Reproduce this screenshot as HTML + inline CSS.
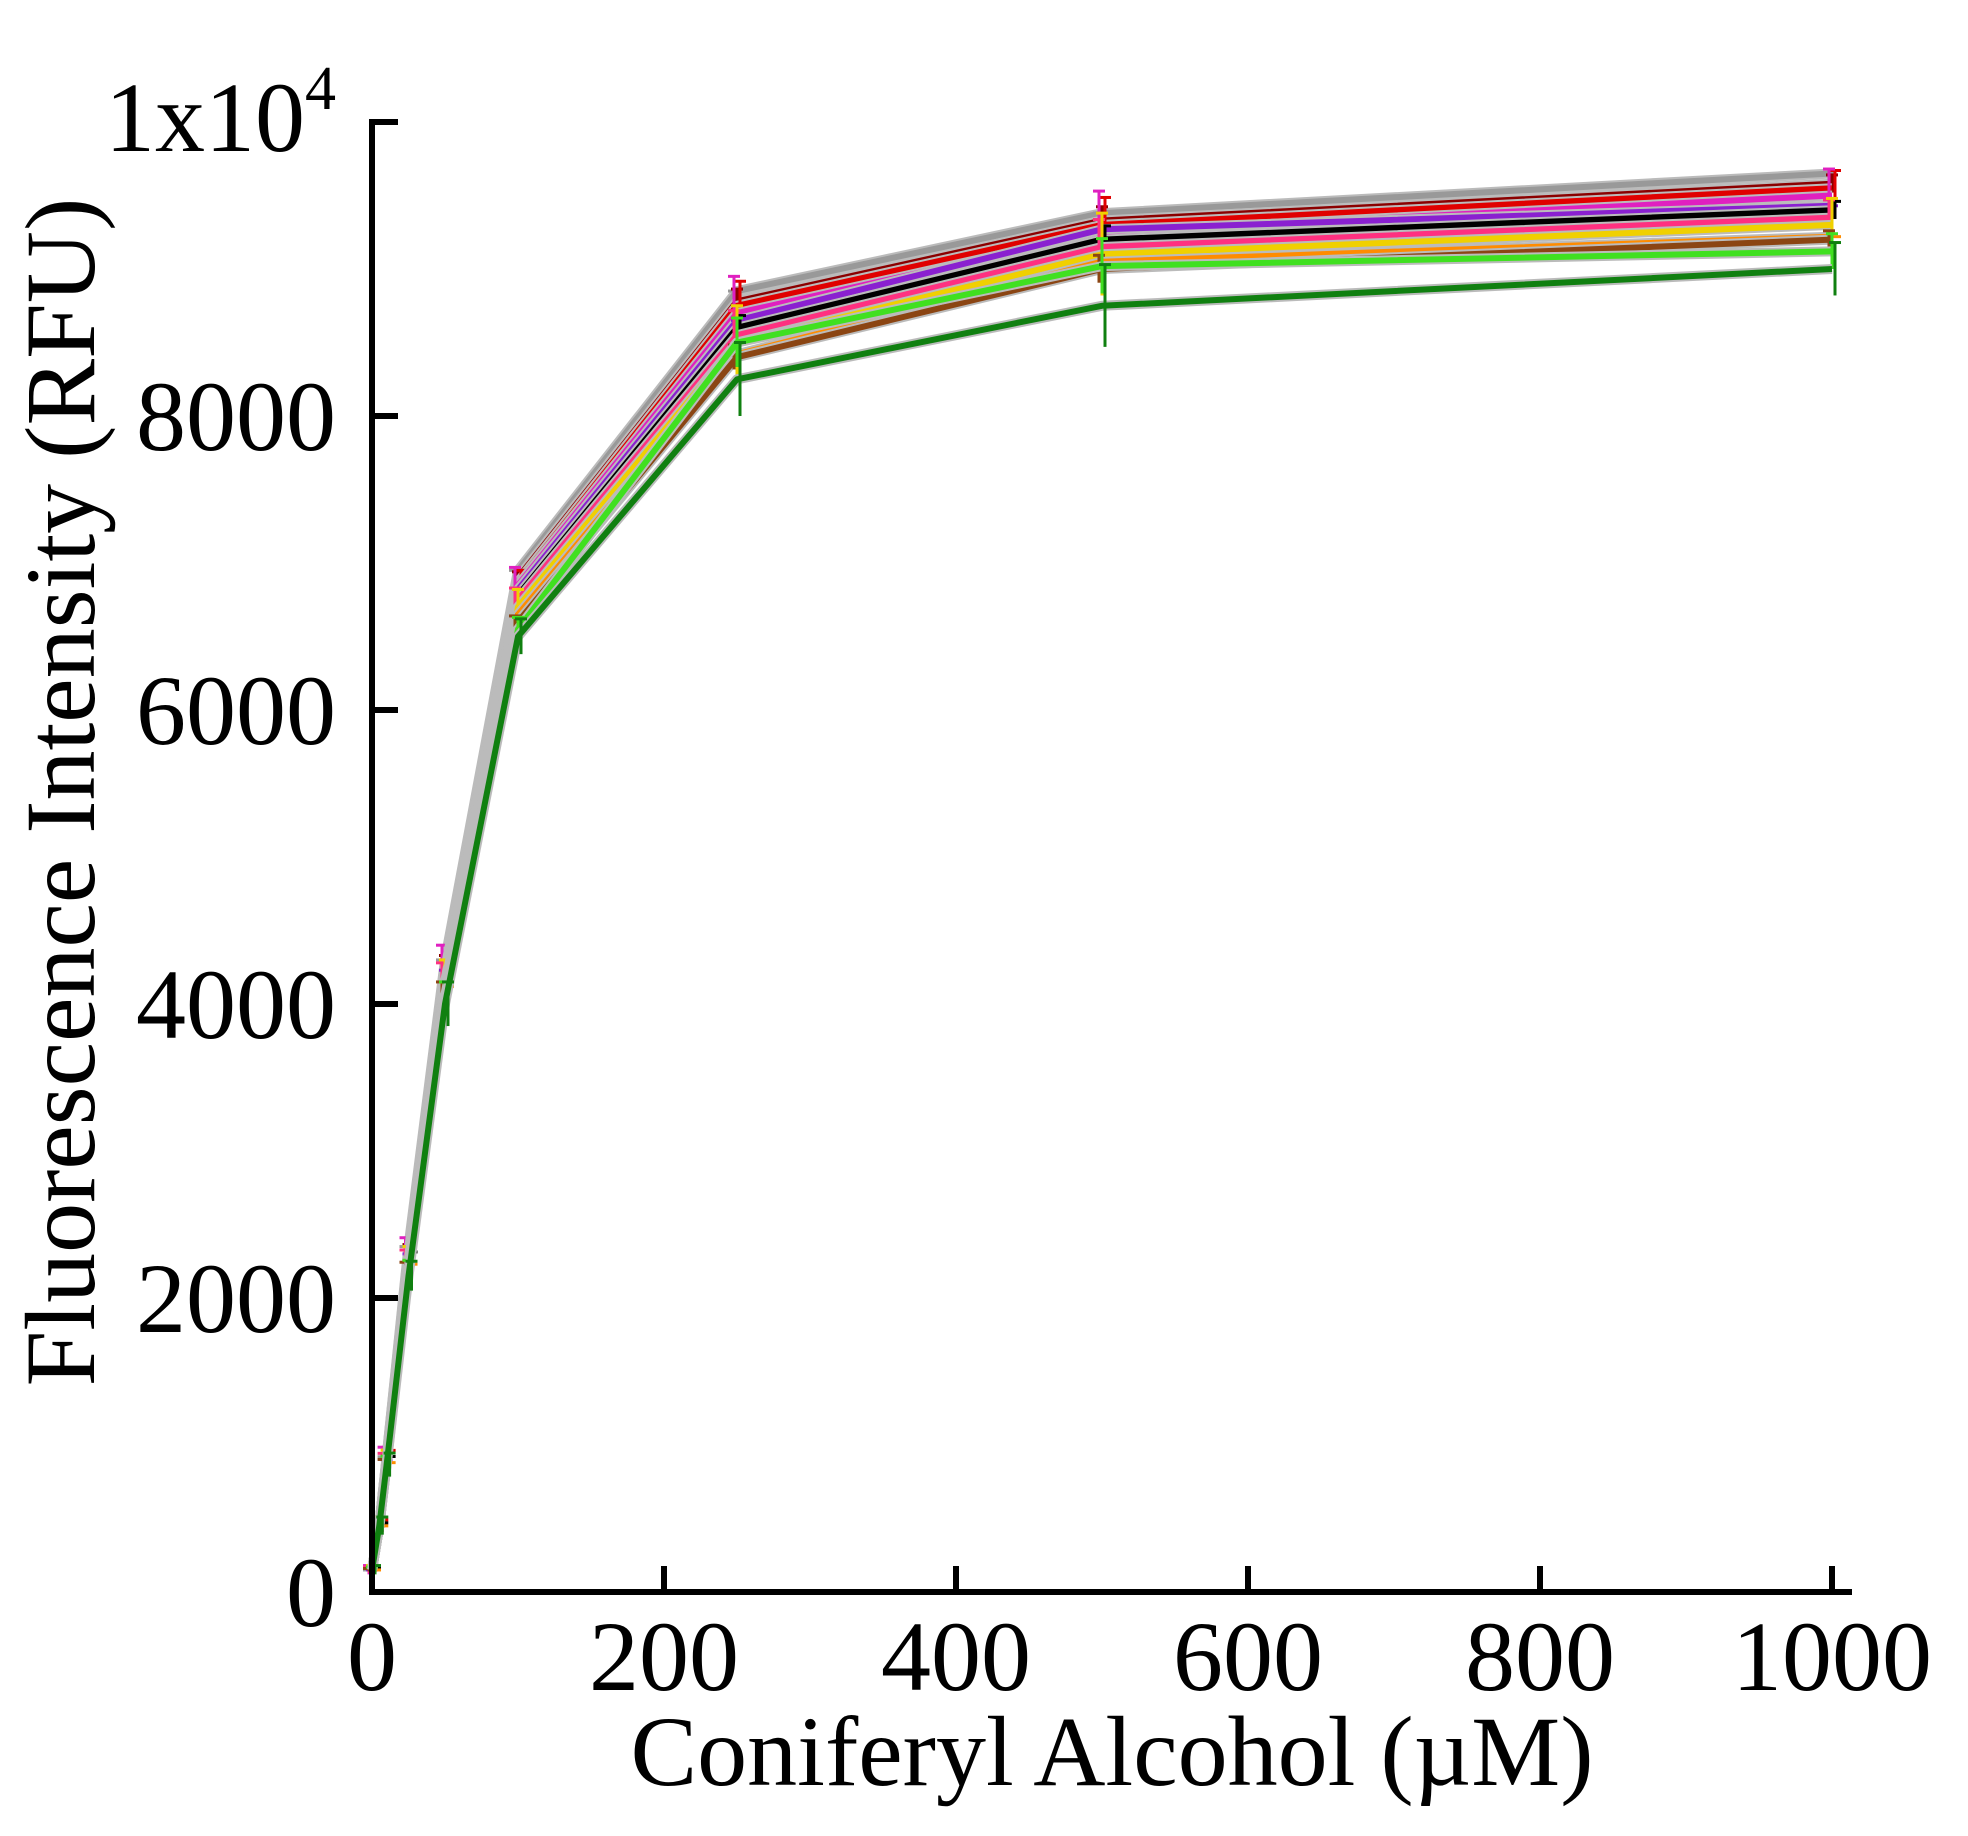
<!DOCTYPE html>
<html><head><meta charset="utf-8"><style>
html,body{margin:0;padding:0;background:#fff}
svg{display:block}
text{font-family:"Liberation Serif",serif;fill:#000}
</style></head><body>
<svg id="s" width="1968" height="1836" viewBox="0 0 1968 1836" xmlns="http://www.w3.org/2000/svg">
<g id="series"></g>
<g stroke="#000" stroke-width="6" fill="none">
<line x1="372" y1="119" x2="372" y2="1595"/>
<line x1="369" y1="1592" x2="1852" y2="1592"/>
<line x1="372" y1="122" x2="398" y2="122"/>
<line x1="372" y1="416" x2="398" y2="416"/>
<line x1="372" y1="710" x2="398" y2="710"/>
<line x1="372" y1="1004" x2="398" y2="1004"/>
<line x1="372" y1="1298" x2="398" y2="1298"/>
<line x1="664" y1="1592" x2="664" y2="1566"/>
<line x1="956" y1="1592" x2="956" y2="1566"/>
<line x1="1248" y1="1592" x2="1248" y2="1566"/>
<line x1="1540" y1="1592" x2="1540" y2="1566"/>
<line x1="1832" y1="1592" x2="1832" y2="1566"/>
</g>
<g font-size="100" text-anchor="end">
<text x="336" y="450">8000</text>
<text x="336" y="744">6000</text>
<text x="336" y="1038">4000</text>
<text x="336" y="1332">2000</text>
<text x="336" y="1626">0</text>
<text x="336" y="151">1x10<tspan font-size="62" dy="-42">4</tspan></text>
</g>
<g font-size="100" text-anchor="middle">
<text x="372" y="1690">0</text>
<text x="664" y="1690">200</text>
<text x="956" y="1690">400</text>
<text x="1248" y="1690">600</text>
<text x="1540" y="1690">800</text>
<text x="1832" y="1690">1000</text>
<text x="1112" y="1785">Coniferyl Alcohol (µM)</text>
<text transform="translate(94,792) rotate(-90)">Fluorescence Intensity (RFU)</text>
</g>
</svg>
<script>
(function(){
var X=function(v){return 372+v*1.46},Y=function(v){return 1592-v*0.147};
var xs=[0,5,10,25,50,100,250,500,1000];
var S=[
['#999',9650,8850,9380,6950,4300,2350],
['#8b0000',9580,8780,9330,6900,4280,2330],
['#e00000',9550,8750,9300,6870,4260,2320],
['#e020c0',9500,8700,9250,6850,4250,2310],
['#8a20d0',9430,8650,9270,6820,4230,2300],
['#000',9400,8600,9200,6780,4200,2280],
['#ff3080',9350,8550,9150,6750,4180,2260],
['#f0d000',9300,8500,9100,6700,4150,2250],
['#ff8c00',9220,8420,9050,6650,4120,2230],
['#8b4513',9200,8400,9000,6600,4100,2210],
['#40e020',9120,8500,9020,6550,4050,2190],
['#108010',9000,8250,8750,6500,4000,2150]];
var g=document.getElementById('series'),h='';
S.forEach(function(s,i){
var vals=[150,450,920-i*5,s[6],s[5],s[4],s[2],s[3],s[1]];
var p=xs.map(function(x,k){return X(x).toFixed(1)+','+Y(vals[k]).toFixed(1)}).join(' ');
h+='<polyline points="'+p+'" fill="none" stroke="#bbb" stroke-width="10" stroke-linejoin="round"/>';
h+='<polyline points="'+p+'" fill="none" stroke="'+s[0]+'" stroke-width="6" stroke-linejoin="round"/>';
xs.forEach(function(x,k){var e=[30,60,80,100,150,120,250,280,180][k];var cx=X(x)+((i%3)-1)*3,cy=Y(vals[k]);
var d=e*0.147*((i%4)/3);
h+='<line x1="'+cx+'" x2="'+cx+'" y1="'+(cy-d)+'" y2="'+(cy+d)+'" stroke="'+s[0]+'" stroke-width="3"/>';
h+='<line x1="'+(cx-6)+'" x2="'+(cx+6)+'" y1="'+(cy-d)+'" y2="'+(cy-d)+'" stroke="'+s[0]+'" stroke-width="3"/>';
});
});
g.innerHTML=h;
})();
</script>
</body></html>
